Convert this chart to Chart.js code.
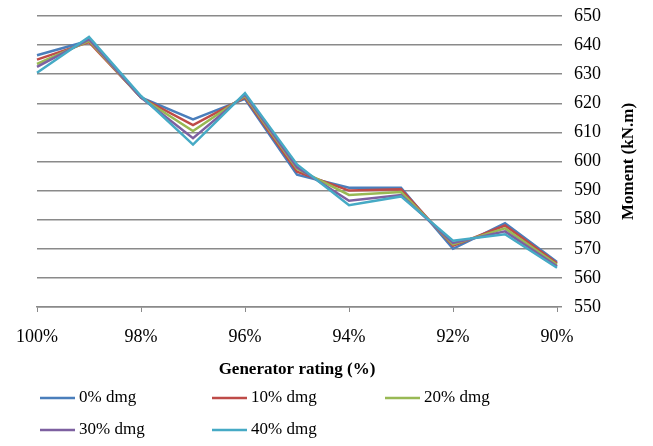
<!DOCTYPE html>
<html>
<head>
<meta charset="utf-8">
<script src="https://cdn.jsdelivr.net/npm/chart.js@4"></script>
<style>
  html, body { margin: 0; padding: 0; background: #fff; }
  #wrap { width: 653px; height: 446px; }
</style>
</head>
<body>
<div id="wrap"><canvas id="chart" width="653" height="446"></canvas></div>
<script>
// generator rating categories (x axis)
var ratings = ["100%", "99%", "98%", "97%", "96%", "95%", "94%", "93%", "92%", "91%", "90%"];

// moment (kN.m) for each damage level
var dmg0  = [636.5, 641.5, 622.0, 614.5, 621.5, 595.5, 591.0, 591.0, 570.0, 578.8, 565.5];
var dmg10 = [635.0, 641.0, 622.0, 612.5, 622.0, 596.5, 590.0, 590.5, 571.0, 578.0, 565.0];
var dmg20 = [633.5, 641.5, 622.0, 610.5, 622.5, 597.5, 588.5, 589.5, 571.5, 577.0, 564.5];
var dmg30 = [632.5, 642.0, 622.0, 608.0, 623.0, 598.0, 586.5, 588.5, 572.0, 576.0, 564.0];
var dmg40 = [630.5, 642.8, 622.5, 605.8, 623.5, 599.0, 585.0, 588.0, 572.8, 575.0, 563.5];

var seriesNames = ["0% dmg", "10% dmg", "20% dmg", "30% dmg", "40% dmg"];
var seriesColors = ["#4a7ebb", "#be4b48", "#98b954", "#7d60a0", "#46aac5"];

var FONT = "'Liberation Serif', 'Times New Roman', serif";
var GRID = "#8a8a8a";

var datasets = [dmg0, dmg10, dmg20, dmg30, dmg40].map(function(vals, i) {
    return {
        label: seriesNames[i],
        data: vals,
        borderColor: seriesColors[i],
        backgroundColor: seriesColors[i],
        borderWidth: 2.5,
        pointRadius: 0,
        tension: 0,
        order: 4 - i
    };
});

// legend in 3 columns + rotated y title (reads bottom to top)
var extras = {
    id: 'extras',
    afterDraw: function(chart) {
        var ctx = chart.ctx;
        ctx.save();
        ctx.font = "17px " + FONT;
        ctx.fillStyle = "#000";
        ctx.textBaseline = "middle";
        ctx.textAlign = "left";
        var cols = [40, 212, 385];
        var rows = [398, 430];
        seriesNames.forEach(function(name, i) {
            var x = cols[i % 3], y = rows[Math.floor(i / 3)];
            ctx.strokeStyle = seriesColors[i];
            ctx.lineWidth = 2.5;
            ctx.beginPath();
            ctx.moveTo(x, y);
            ctx.lineTo(x + 35, y);
            ctx.stroke();
            ctx.fillText(name, x + 39, y);
        });
        var a = chart.chartArea;
        ctx.translate(629, (a.top + a.bottom) / 2);
        ctx.rotate(-Math.PI / 2);
        ctx.textAlign = "center";
        ctx.font = "bold 17px " + FONT;
        ctx.fillText("Moment (kN.m)", 0, 0);
        ctx.restore();
    }
};

var ctx = document.getElementById("chart").getContext("2d");
window.myLine = new Chart(ctx, {
    type: 'line',
    data: { labels: ratings, datasets: datasets },
    plugins: [extras],
    options: {
        responsive: false,
        animation: false,
        layout: { autoPadding: false, padding: { top: 16, left: 37, right: 40, bottom: 64 } },
        plugins: {
            legend: { display: false },
            tooltip: { enabled: false }
        },
        scales: {
            x: {
                offset: false,
                border: { color: GRID, width: 1.5 },
                grid: {
                    drawOnChartArea: false,
                    drawTicks: true,
                    tickLength: 5,
                    color: function(c) { return c.index % 2 === 0 ? GRID : 'rgba(0,0,0,0)'; }
                },
                ticks: {
                    autoSkip: false,
                    maxRotation: 0,
                    padding: 14,
                    color: "#000",
                    font: { family: FONT, size: 18 },
                    callback: function(v, i) { return i % 2 === 0 ? ratings[i] : ''; }
                },
                title: {
                    display: true,
                    text: "Generator rating (%)",
                    color: "#000",
                    font: { family: FONT, size: 17, weight: 'bold' },
                    padding: { top: -2, bottom: 2 }
                }
            },
            y: {
                position: 'right',
                min: 550,
                max: 650,
                border: { display: false },
                grid: { color: GRID, lineWidth: 1.5, tickLength: 5 },
                ticks: {
                    stepSize: 10,
                    padding: 12,
                    color: "#000",
                    font: { family: FONT, size: 18, lineHeight: 0.1 }
                }
            }
        }
    }
});
</script>
</body>
</html>
